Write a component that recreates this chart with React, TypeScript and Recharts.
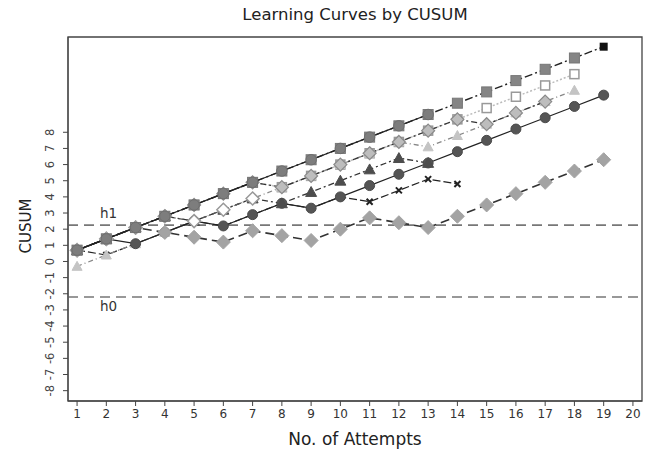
import { LineChart, Line, XAxis, YAxis, ReferenceLine, ReferenceArea } from 'recharts';

// attempts on the x axis
const attempts = [1, 2, 3, 4, 5, 6, 7, 8, 9, 10, 11, 12, 13, 14, 15, 16, 17, 18, 19];
const xTicks = [1, 2, 3, 4, 5, 6, 7, 8, 9, 10, 11, 12, 13, 14, 15, 16, 17, 18, 19, 20];
const yTicks = [-8, -7, -6, -5, -4, -3, -2, -1, 0, 1, 2, 3, 4, 5, 6, 7, 8];

// CUSUM values per trainee
const squaresOpen = [0.7, 1.4, 2.1, 2.8, 3.5, 4.2, 4.9, 4.6, 5.3, 6.0, 6.7, 7.4, 8.1, 8.8, 9.5, 10.2, 10.9, 11.6];
const crosses = [0.7, 0.4, 1.1, 1.8, 2.5, 2.2, 2.9, 3.6, 3.3, 4.0, 3.7, 4.4, 5.1, 4.8];
const trianglesLight = [-0.3, 0.4, 1.1, 1.8, 2.5, 3.2, 3.9, 4.6, 5.3, 6.0, 6.7, 7.4, 7.1, 7.8, 8.5, 9.2, 9.9, 10.6];
const circlesDark = [0.7, 1.4, 1.1, 1.8, 2.5, 2.2, 2.9, 3.6, 3.3, 4.0, 4.7, 5.4, 6.1, 6.8, 7.5, 8.2, 8.9, 9.6, 10.3];
const trianglesDark = [0.7, 1.4, 2.1, 2.8, 2.5, 3.2, 3.9, 3.6, 4.3, 5.0, 5.7, 6.4, 6.1];
const diamondsGrey = [0.7, 1.4, 2.1, 2.8, 3.5, 4.2, 4.9, 4.6, 5.3, 6.0, 6.7, 7.4, 8.1, 8.8, 8.5, 9.2, 9.9];
const diamondsOpen = [0.7, 1.4, 2.1, 2.8, 2.5, 3.2, 3.9];
const diamonds = [0.7, 1.4, 2.1, 1.8, 1.5, 1.2, 1.9, 1.6, 1.3, 2.0, 2.7, 2.4, 2.1, 2.8, 3.5, 4.2, 4.9, 5.6, 6.3];
const squares = [0.7, 1.4, 2.1, 2.8, 3.5, 4.2, 4.9, 5.6, 6.3, 7.0, 7.7, 8.4, 9.1, 9.8, 10.5, 11.2, 11.9, 12.6, 13.3];
const circlesTop = [0.7, 1.4, 2.1, 2.8, 3.5, 4.2, 4.9, 5.6, 6.3, 7.0, 7.7, 8.4, 9.1];

// decision limits
const h1 = 2.25;
const h0 = -2.2;

const chartData = attempts.map((x, i) => ({
  x,
  squaresOpen: squaresOpen[i],
  crosses: crosses[i],
  trianglesLight: trianglesLight[i],
  circlesDark: circlesDark[i],
  trianglesDark: trianglesDark[i],
  diamondsGrey: diamondsGrey[i],
  diamondsOpen: diamondsOpen[i],
  diamonds: diamonds[i],
  squares: squares[i],
  circlesTop: circlesTop[i],
}));

const FONT = '"DejaVu Sans", Verdana, sans-serif';
const X_MIN = 0.69;
const X_MAX = 20.31;
const Y_MIN = -8.64;
const Y_MAX = 13.9;

type Shape = 'circle' | 'square' | 'diamond' | 'triangle' | 'cross';

const makeDot = (shape: Shape, fill: string, stroke: string, size: number, sw = 1, lastFill?: string) =>
  (props: any) => {
    const { cx, cy, index } = props;
    const key = `${shape}-${fill}-${index}`;
    if (cx == null || cy == null || Number.isNaN(cy)) return <g key={key} />;
    const s = size / 2;
    const isLast = lastFill && index === attempts.length - 1;
    switch (shape) {
      case 'circle':
        return <circle key={key} cx={cx} cy={cy} r={s} fill={fill} stroke={stroke} strokeWidth={sw} />;
      case 'square':
        if (isLast) {
          return <rect key={key} x={cx - 4} y={cy - 4} width={8} height={8} fill={lastFill} />;
        }
        return <rect key={key} x={cx - s} y={cy - s} width={size} height={size} fill={fill} stroke={stroke} strokeWidth={sw} />;
      case 'diamond':
        return (
          <polygon key={key} points={`${cx},${cy - s} ${cx + s},${cy} ${cx},${cy + s} ${cx - s},${cy}`}
            fill={fill} stroke={stroke} strokeWidth={sw} />
        );
      case 'triangle':
        return (
          <polygon key={key} points={`${cx},${cy - s} ${cx + s},${cy + s * 0.8} ${cx - s},${cy + s * 0.8}`}
            fill={fill} stroke={stroke} strokeWidth={sw} />
        );
      case 'cross':
        return (
          <path key={key} d={`M${cx - s},${cy - s}L${cx + s},${cy + s}M${cx + s},${cy - s}L${cx - s},${cy + s}`}
            stroke={fill} strokeWidth={sw} />
        );
    }
  };

const YTick = (props: any) => {
  const { x, y, payload } = props;
  return (
    <text x={x} y={y} transform={`rotate(-90 ${x} ${y})`} textAnchor="middle"
      fontSize={11.5} fill="#444" fontFamily={FONT}>
      {payload.value}
    </text>
  );
};

const yTitle = (props: any) => {
  const vb = props.viewBox;
  const cx = vb.x + 31;
  const cy = vb.y + vb.height / 2 + 7;
  return (
    <text x={cx} y={cy} transform={`rotate(-90 ${cx} ${cy})`} textAnchor="middle"
      fontSize={15} fill="#222" fontFamily={FONT}>
      CUSUM
    </text>
  );
};

const hLabel = (text: string, dy: number) => (props: any) => {
  const vb = props.viewBox;
  return (
    <text x={vb.x + 32} y={vb.y + dy} fontSize={13.5} fill="#333" fontFamily={FONT}>
      {text}
    </text>
  );
};

export default function App() {
  return (
    <div style={{ position: 'absolute', left: 0, top: 0, width: 648, height: 452, background: '#fff' }}>
      <div style={{
        position: 'absolute', left: 68, top: 6, width: 574, textAlign: 'center',
        fontFamily: FONT, fontSize: 16.5, lineHeight: '18px', color: '#222',
      }}>
        Learning Curves by CUSUM
      </div>
      <LineChart width={648} height={452} data={chartData} margin={{ top: 37, right: 6, bottom: 0, left: 0 }}>
        <ReferenceArea x1={X_MIN} x2={X_MAX} y1={Y_MIN} y2={Y_MAX} fill="none" stroke="#444"
          strokeWidth={1.3} ifOverflow="visible" />
        <XAxis
          dataKey="x"
          type="number"
          domain={[X_MIN, X_MAX]}
          ticks={xTicks}
          interval={0}
          allowDataOverflow
          height={51}
          tickSize={5}
          tickMargin={3}
          stroke="#444"
          tick={{ fontSize: 12, fill: '#333', fontFamily: FONT }}
          label={{ value: 'No. of Attempts', position: 'insideBottom', offset: 7, fontSize: 17, fill: '#222', fontFamily: FONT }}
        />
        <YAxis
          type="number"
          domain={[Y_MIN, Y_MAX]}
          ticks={yTicks}
          interval={0}
          allowDataOverflow
          width={68}
          tickSize={5}
          tickMargin={9}
          stroke="#444"
          tick={<YTick />}
          label={yTitle}
        />
        <ReferenceLine y={h1} stroke="#777" strokeWidth={1.6} strokeDasharray="10 6" label={hLabel('h1', -7)} />
        <ReferenceLine y={h0} stroke="#777" strokeWidth={1.6} strokeDasharray="10 6" label={hLabel('h0', 14)} />

        <Line dataKey="squaresOpen" stroke="#bbb" strokeWidth={1.5} strokeDasharray="2 2"
          dot={makeDot('square', '#fff', '#999', 9, 1.5)} activeDot={false} isAnimationActive={false} />
        <Line dataKey="crosses" stroke="#222" strokeWidth={1.2} strokeDasharray="8 3"
          dot={makeDot('cross', '#222', '#222', 6, 2)} activeDot={false} isAnimationActive={false} />
        <Line dataKey="trianglesLight" stroke="#888" strokeWidth={1.3} strokeDasharray="5 3 1 3"
          dot={makeDot('triangle', '#c4c4c4', '#c4c4c4', 10)} activeDot={false} isAnimationActive={false} />
        <Line dataKey="circlesDark" stroke="#222" strokeWidth={1.2}
          dot={makeDot('circle', '#555', '#4a4a4a', 10)} activeDot={false} isAnimationActive={false} />
        <Line dataKey="trianglesDark" stroke="#333" strokeWidth={1.3} strokeDasharray="6 3 2 3"
          dot={makeDot('triangle', '#4d4d4d', '#4d4d4d', 11)} activeDot={false} isAnimationActive={false} />
        <Line dataKey="diamondsGrey" stroke="#333" strokeWidth={1.3} strokeDasharray="6 3 2 3"
          dot={makeDot('diamond', '#bdbdbd', '#8a8a8a', 13, 1.2)} activeDot={false} isAnimationActive={false} />
        <Line dataKey="diamondsOpen" stroke="#555" strokeWidth={1.3} strokeDasharray="5 3 1 3"
          dot={makeDot('diamond', '#fff', '#999', 13, 1.5)} activeDot={false} isAnimationActive={false} />
        <Line dataKey="diamonds" stroke="#333" strokeWidth={1.6} strokeDasharray="9 5"
          dot={makeDot('diamond', '#a3a3a3', '#a3a3a3', 14)} activeDot={false} isAnimationActive={false} />
        <Line dataKey="squares" stroke="#222" strokeWidth={1.4} strokeDasharray="8 3 2 3"
          dot={makeDot('square', '#858585', '#777', 10, 1, '#111')} activeDot={false} isAnimationActive={false} />
        <Line dataKey="circlesTop" stroke="#222" strokeWidth={1.2}
          dot={makeDot('circle', '#7d7d7d', '#6e6e6e', 10.5)} activeDot={false} isAnimationActive={false} />
      </LineChart>
    </div>
  );
}
